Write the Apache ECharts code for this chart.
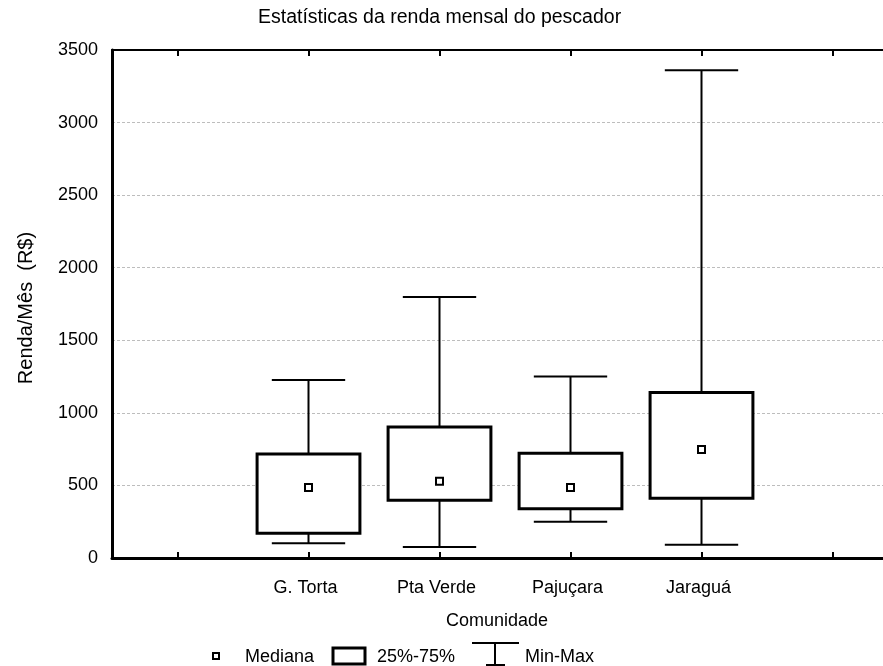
<!DOCTYPE html>
<html>
<head>
<meta charset="utf-8">
<script src="https://cdn.jsdelivr.net/npm/echarts@6/dist/echarts.min.js"></script>
<style>
  html, body { margin: 0; padding: 0; background: #fff; }
  #main { width: 883px; height: 666px; }
</style>
</head>
<body>
<div id="main"></div>
<script>
// categorias (com posicoes vazias nas pontas, como no grafico original)
const comunidades = ["", "G. Torta", "Pta Verde", "Pajuçara", "Jaraguá", ""];
const minimo = [101, 76, 250, 92];
const q1 = [170, 398, 340, 411];
const mediana = [485, 529, 485, 747];
const q3 = [717, 903, 722, 1140];
const maximo = [1227, 1799, 1250, 3361];
const yTicks = [0, 500, 1000, 1500, 2000, 2500, 3000, 3500];

const font = "Liberation Sans, Arial, sans-serif";
const mychart = echarts.init(document.getElementById("main"));

// dados do boxplot: [indice, min, q1, mediana, q3, max]
const boxData = minimo.map((v, i) => [i + 1, v, q1[i], mediana[i], q3[i], maximo[i]]);
const medData = mediana.map((v, i) => [i + 1, v]);

function renderBox(params, api) {
  const x = api.value(0);
  const pMin = api.coord([x, api.value(1)]);
  const pQ1 = api.coord([x, api.value(2)]);
  const pQ3 = api.coord([x, api.value(4)]);
  const pMax = api.coord([x, api.value(5)]);
  const band = api.size([1, 0])[0];
  const boxW = band * 0.785;
  const capW = band * 0.56;
  const cx = pMin[0];
  const thin = { stroke: "#000", lineWidth: 2 };
  return {
    type: "group",
    children: [
      { type: "line", shape: { x1: cx, y1: pMin[1], x2: cx, y2: pMax[1] }, style: thin },
      { type: "line", shape: { x1: cx - capW / 2, y1: pMin[1], x2: cx + capW / 2, y2: pMin[1] }, style: thin },
      { type: "line", shape: { x1: cx - capW / 2, y1: pMax[1], x2: cx + capW / 2, y2: pMax[1] }, style: thin },
      {
        type: "rect",
        shape: { x: cx - boxW / 2, y: pQ3[1], width: boxW, height: pQ1[1] - pQ3[1] },
        style: { fill: "#fff", stroke: "#000", lineWidth: 3 },
      },
    ],
  };
}

const option = {
  animation: false,
  backgroundColor: "#fff",
  textStyle: { fontFamily: font },
  grid: { left: 112, top: 50, width: 786, height: 508, outerBoundsMode: "none", containLabel: false },
  xAxis: [
    {
      type: "category",
      data: comunidades,
      position: "bottom",
      boundaryGap: true,
      axisLine: { lineStyle: { color: "#000", width: 3 } },
      axisTick: { show: true, interval: 0, inside: true, alignWithLabel: true, length: 6, lineStyle: { color: "#000", width: 2 } },
      axisLabel: { interval: 0, color: "#000", fontSize: 18, margin: 21, padding: [0, 6, 0, 0], fontFamily: font },
      splitLine: { show: false },
    },
    {
      type: "category",
      data: comunidades,
      position: "top",
      boundaryGap: true,
      axisLine: { lineStyle: { color: "#000", width: 2 } },
      axisTick: { show: true, interval: 0, inside: true, alignWithLabel: true, length: 6, lineStyle: { color: "#000", width: 2 } },
      axisLabel: { show: false, interval: 0 },
      splitLine: { show: false },
    },
  ],
  yAxis: {
    type: "value",
    min: 0,
    max: 3500,
    interval: 500,
    axisLine: { show: true, lineStyle: { color: "#000", width: 3 } },
    axisTick: { show: false },
    axisLabel: {
      color: "#000",
      fontSize: 18,
      margin: 14,
      fontFamily: font,
      formatter: (v) => (yTicks.includes(v) ? String(v) : ""),
    },
    splitLine: { lineStyle: { color: "#bdbdbd", type: [3, 2], width: 1 } },
  },
  series: [
    {
      name: "25%-75%",
      type: "custom",
      renderItem: renderBox,
      encode: { x: 0, y: [1, 2, 3, 4, 5] },
      data: boxData,
      z: 2,
    },
    {
      name: "Mediana",
      type: "scatter",
      symbol: "rect",
      symbolSize: 7,
      itemStyle: { color: "#fff", borderColor: "#000", borderWidth: 2, opacity: 1 },
      data: medData,
      z: 3,
    },
  ],
  graphic: [
    {
      type: "text",
      left: 258,
      top: 8,
      style: { text: "Estatísticas da renda mensal do pescador", font: "19.5px " + font, fill: "#000" },
    },
    {
      type: "text",
      x: 26,
      y: 308,
      rotation: Math.PI / 2,
      style: {
        text: "Renda/Mês  (R$)",
        font: "20px " + font,
        fill: "#000",
        align: "center",
        verticalAlign: "middle",
      },
    },
    {
      type: "text",
      x: 497,
      y: 621,
      style: { text: "Comunidade", font: "18px " + font, fill: "#000", align: "center", verticalAlign: "middle" },
    },
    // legenda
    { type: "rect", shape: { x: 213, y: 653, width: 6, height: 6 }, style: { fill: "#fff", stroke: "#000", lineWidth: 2 } },
    { type: "text", x: 245, y: 657, style: { text: "Mediana", font: "18px " + font, fill: "#000", verticalAlign: "middle" } },
    { type: "rect", shape: { x: 333, y: 648, width: 32, height: 16 }, style: { fill: "#fff", stroke: "#000", lineWidth: 3 } },
    { type: "text", x: 377, y: 657, style: { text: "25%-75%", font: "18px " + font, fill: "#000", verticalAlign: "middle" } },
    { type: "line", shape: { x1: 472, y1: 643, x2: 519, y2: 643 }, style: { stroke: "#000", lineWidth: 2 } },
    { type: "line", shape: { x1: 495, y1: 643, x2: 495, y2: 665 }, style: { stroke: "#000", lineWidth: 2 } },
    { type: "line", shape: { x1: 486, y1: 665, x2: 505, y2: 665 }, style: { stroke: "#000", lineWidth: 2 } },
    { type: "text", x: 525, y: 657, style: { text: "Min-Max", font: "18px " + font, fill: "#000", verticalAlign: "middle" } },
  ],
};
mychart.setOption(option);
</script>
</body>
</html>
